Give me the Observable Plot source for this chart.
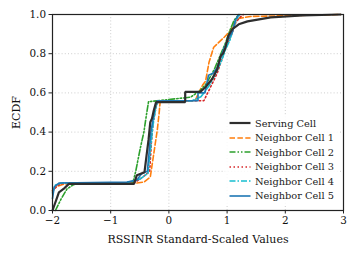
<!DOCTYPE html>
<html><head><meta charset="utf-8">
<script src="https://cdn.jsdelivr.net/npm/d3@7"></script>
<script src="https://cdn.jsdelivr.net/npm/@observablehq/plot@0.6"></script>
<style>
body{margin:0;background:#fff;}
#wrap{position:relative;width:356px;height:256px;font-family:"DejaVu Serif",serif;}
#legend{position:absolute;left:225px;top:115px;width:113px;padding:1px 0 2px 4px;box-sizing:border-box;background:rgba(255,255,255,0.85);font-size:9.8px;color:#1a1a1a;}
#legend .row{display:flex;align-items:center;height:14.5px;white-space:nowrap;}
#legend svg{margin-right:4px;flex:none;}
svg text{font-family:"DejaVu Serif",serif;}
</style></head><body>
<div id="wrap"><div id="legend"></div></div>
<script>
const seriesNames = ["Serving Cell","Neighbor Cell 1","Neighbor Cell 2","Neighbor Cell 3","Neighbor Cell 4","Neighbor Cell 5"];
const servingX = [-2,-1.89,-1.81,-1.72,-0.60,-0.55,-0.42,-0.38,-0.35,-0.32,-0.29,-0.26,-0.22,0.28,0.28,0.54,0.63,0.74,0.83,0.89,0.93,0.97,1.02,1.09,1.2,1.35,1.75,2.3,2.95];
const servingY = [0,0.093,0.11,0.136,0.136,0.18,0.195,0.29,0.36,0.45,0.47,0.51,0.553,0.553,0.605,0.605,0.63,0.67,0.72,0.79,0.80,0.83,0.89,0.925,0.95,0.965,0.985,0.995,1.0];
const n1X = [-2,-1.95,-1.8,-0.55,-0.43,-0.32,-0.26,-0.2,-0.17,-0.15,0.45,0.51,0.58,0.63,0.69,0.77,0.95,1.06,1.12,1.2,1.4,2.95];
const n1Y = [0.1,0.12,0.135,0.14,0.145,0.17,0.29,0.41,0.49,0.555,0.56,0.6,0.64,0.66,0.757,0.833,0.884,0.918,0.96,0.98,0.99,1.0];
const n2X = [-1.95,-1.85,-1.75,-1.65,-1.55,-0.62,-0.57,-0.49,-0.43,-0.38,-0.35,0.37,0.54,0.65,0.78,0.88,0.98,1.05,1.12,1.2];
const n2Y = [0,0.06,0.11,0.13,0.14,0.14,0.2,0.32,0.4,0.5,0.555,0.578,0.612,0.65,0.72,0.79,0.86,0.92,0.97,1.0];
const n3X = [-2,-1.9,-1.8,-0.6,-0.45,-0.33,-0.3,-0.27,-0.22,-0.18,0.6,0.7,0.83,0.92,1.0,1.08,1.15,1.22,1.28];
const n3Y = [0.1,0.13,0.14,0.14,0.17,0.2,0.35,0.45,0.53,0.56,0.56,0.62,0.7,0.78,0.85,0.9,0.96,0.985,1.0];
const n4X = [-2,-1.95,-1.85,-0.75,-0.5,-0.36,-0.32,-0.28,-0.24,-0.2,0.4,0.55,0.7,0.8,0.9,0.97,1.05,1.1,1.15,1.22];
const n4Y = [0.09,0.13,0.14,0.14,0.16,0.19,0.3,0.42,0.5,0.555,0.56,0.58,0.64,0.7,0.76,0.82,0.87,0.92,0.97,1.0];
const n5X = [-2,-1.98,-1.97,-1.89,-0.72,-0.55,-0.49,-0.45,-0.37,-0.34,-0.31,-0.27,-0.24,-0.2,0.5,0.5,0.62,0.68,0.76,0.83,0.89,0.95,1.03,1.09,1.14,1.2];
const n5Y = [0.06,0.1,0.12,0.14,0.145,0.155,0.18,0.19,0.2,0.3,0.4,0.47,0.53,0.56,0.56,0.6,0.6,0.69,0.7,0.73,0.78,0.83,0.88,0.91,0.97,1.0];
const xTicks = [-2,-1,0,1,2,3];
const yTicks = [0,0.2,0.4,0.6,0.8,1.0];

const colors = ["#2e2e2e","#ff7f0e","#2ca02c","#d62728","#17becf","#1f77b4"];
const dashes = [null,"5.5,2.4","6,2,1.5,2,1.5,2","1.5,2.5","6,2,1.5,2",null];
const widths = [2.2,1.6,1.6,1.6,1.6,1.6];
const xs = [servingX,n1X,n2X,n3X,n4X,n5X];
const ys = [servingY,n1Y,n2Y,n3Y,n4Y,n5Y];
const series = seriesNames.map((name,i)=>({name, color:colors[i], dash:dashes[i], width:widths[i],
  data: xs[i].map((x,j)=>({x, y: ys[i][j]}))}));

const drawOrder = [1,2,3,4,5,0];
const plot = Plot.plot({
  width:356, height:256,
  marginLeft:52, marginRight:13, marginTop:14, marginBottom:46,
  style:{fontFamily:"DejaVu Serif, serif", fontSize:"10.4px", color:"#111", background:"#fff"},
  x:{domain:[-2,3], ticks:xTicks},
  y:{domain:[0,1], ticks:yTicks},
  marks:[
    Plot.gridX(xTicks,{stroke:"#b0b0b0", strokeOpacity:0.8, strokeDasharray:"1,2.2", strokeWidth:0.8}),
    Plot.gridY(yTicks,{stroke:"#b0b0b0", strokeOpacity:0.8, strokeDasharray:"1,2.2", strokeWidth:0.8}),
    ...drawOrder.map(i=>{const s=series[i]; return Plot.line(s.data,{x:"x",y:"y",stroke:s.color,strokeWidth:s.width,strokeDasharray:s.dash,strokeLinejoin:"miter"});}),
    Plot.frame({stroke:"#222", strokeWidth:1.2}),
    Plot.axisX({ticks:xTicks, tickSize:3.5, tickPadding:3, stroke:"#222", tickFormat:d=>String(d).replace("-","\u2212"), label:"RSSINR Standard-Scaled Values", labelAnchor:"center", labelArrow:"none", labelOffset:32, fontSize:10.4}),
    Plot.axisY({ticks:yTicks, tickSize:3.5, tickPadding:3, stroke:"#222", tickFormat:d=>d.toFixed(1), label:"ECDF", labelAnchor:"center", labelArrow:"none", labelOffset:40, fontSize:10.4})
  ]
});
const wrap = document.getElementById("wrap");
wrap.insertBefore(plot, wrap.firstChild);
plot.querySelectorAll("g[aria-label='x-axis label'] text, g[aria-label='y-axis label'] text").forEach(t=>t.style.fontSize="11px");
plot.querySelectorAll("text").forEach(t=>t.setAttribute("fill","#111"));

const legend = document.getElementById("legend");
series.forEach(s=>{
  const row=document.createElement("div"); row.className="row";
  const ns="http://www.w3.org/2000/svg";
  const sv=document.createElementNS(ns,"svg"); sv.setAttribute("width","22"); sv.setAttribute("height","6");
  const ln=document.createElementNS(ns,"line");
  ln.setAttribute("x1","0.5");ln.setAttribute("x2","21.5");ln.setAttribute("y1","3");ln.setAttribute("y2","3");
  ln.setAttribute("stroke",s.color);ln.setAttribute("stroke-width",s.width);
  if(s.dash) ln.setAttribute("stroke-dasharray",s.dash);
  sv.appendChild(ln); row.appendChild(sv);
  const tx=document.createElement("span"); tx.textContent=s.name; row.appendChild(tx);
  legend.appendChild(row);
});
</script></body></html>
